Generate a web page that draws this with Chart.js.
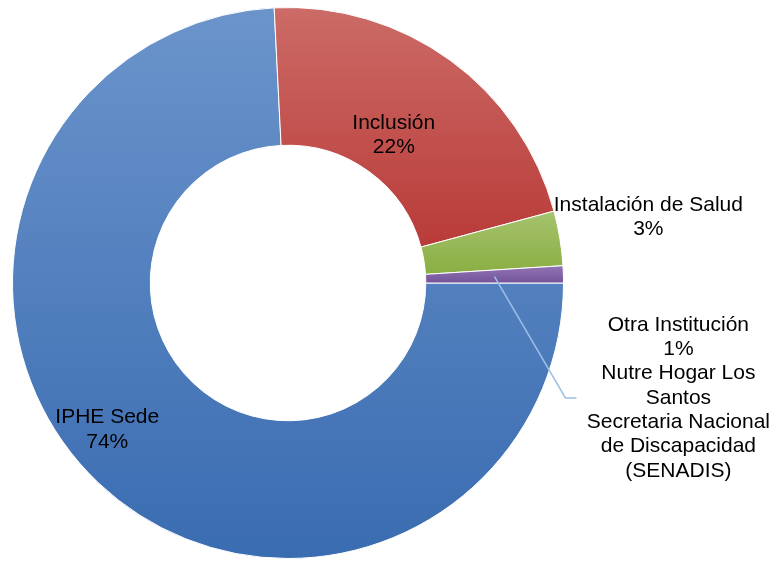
<!DOCTYPE html>
<html>
<head>
<meta charset="utf-8">
<script src="https://cdn.jsdelivr.net/npm/chart.js@4.4.0/dist/chart.umd.min.js"></script>
<style>
  html, body { margin: 0; padding: 0; background: #fff; }
  #wrap { width: 780px; height: 561px; }
</style>
</head>
<body>
<div id="wrap"><canvas id="donutChart" width="780" height="561"></canvas></div>
<script>
// category names, one entry per line of the label
var categories = [
  ['IPHE Sede'],
  ['Inclusión'],
  ['Instalación de Salud'],
  ['Otra Institución'],
  ['Nutre Hogar Los', 'Santos'],
  ['Secretaria Nacional', 'de Discapacidad', '(SENADIS)']
];
// share of total (%)
var shares = [74.2, 21.6, 3.2, 1.0, 0, 0];

// gradient: light at top of slice, dark at bottom
var topColor = ['#6B94CB', '#CC6B67', '#A6C36E', '#9275B5', '#9275B5', '#9275B5'];
var bottomColor = ['#3A6CB1', '#B93B38', '#8AAE42', '#74539A', '#74539A', '#74539A'];

// label block centre, in units of the outer radius from the ring centre
// the last three categories share one block with a leader line
var labelAt = [[-0.656, 0.533], [0.384, -0.536], [1.308, -0.239], [1.417, 0.417], null, null];
var groupStart = 3;

var total = shares.reduce(function(a, b) { return a + b; }, 0);

function sliceGradient(c) {
  var chart = c.chart, area = chart.chartArea, i = c.dataIndex;
  if (!area) return topColor[i];
  var cy = (area.top + area.bottom) / 2;
  var R = Math.min(area.right - area.left, area.bottom - area.top) / 2;
  var before = 0;
  for (var j = 0; j < i; j++) before += shares[j];
  var a0 = before / total * 2 * Math.PI;
  var a1 = a0 + shares[i] / total * 2 * Math.PI;
  var minY = Infinity, maxY = -Infinity;
  for (var k = 0; k <= 90; k++) {
    var a = a0 + (a1 - a0) * k / 90;
    [R, R / 2].forEach(function(r) {
      var y = cy + r * Math.sin(a);
      if (y < minY) minY = y;
      if (y > maxY) maxY = y;
    });
  }
  if (maxY - minY < 2) return topColor[i];
  var g = chart.ctx.createLinearGradient(0, minY, 0, maxY);
  g.addColorStop(0, topColor[i]);
  g.addColorStop(1, bottomColor[i]);
  return g;
}

function pct(v) {
  return Math.round(v / total * 100) + '%';
}

var sliceLabels = {
  id: 'sliceLabels',
  afterDatasetsDraw: function(chart) {
    var meta = chart.getDatasetMeta(0);
    var ring = meta.data[0];
    var cx = ring.x, cy = ring.y, R = ring.outerRadius;
    var ctx = chart.ctx;
    var lineH = 24.3;
    ctx.save();
    ctx.font = '21px "Liberation Sans", Arial, sans-serif';
    ctx.fillStyle = '#000';
    ctx.textAlign = 'center';
    ctx.textBaseline = 'middle';

    labelAt.forEach(function(pos, i) {
      if (!pos) return;
      var lines = [];
      var last = i === groupStart ? categories.length : i + 1;
      for (var j = i; j < last; j++) {
        lines = lines.concat(categories[j]);
        if (shares[j] > 0) lines.push(pct(shares[j]));
      }
      var x = cx + pos[0] * R, y = cy + pos[1] * R;
      var y0 = y - (lines.length - 1) * lineH / 2;
      lines.forEach(function(t, k) {
        ctx.fillText(t, x, y0 + k * lineH);
      });

      if (i === groupStart) {
        // leader line from the middle of the slice to the block
        var arc = meta.data[i];
        var mid = (arc.startAngle + arc.endAngle) / 2;
        var rMid = (arc.innerRadius + arc.outerRadius) / 2;
        ctx.strokeStyle = '#9DBFE6';
        ctx.lineWidth = 1.5;
        ctx.beginPath();
        ctx.moveTo(cx + rMid * Math.cos(mid), cy + rMid * Math.sin(mid));
        ctx.lineTo(cx + 1.007 * R, y);
        ctx.lineTo(cx + 1.047 * R, y);
        ctx.stroke();
      }
    });
    ctx.restore();
  }
};

new Chart(document.getElementById('donutChart'), {
  type: 'doughnut',
  data: {
    labels: categories,
    datasets: [{
      data: shares,
      backgroundColor: sliceGradient,
      borderColor: '#ffffff',
      borderWidth: 1
    }]
  },
  options: {
    responsive: false,
    animation: false,
    events: [],
    rotation: 90,
    cutout: '50%',
    layout: { padding: { left: 12, top: 7, right: 216, bottom: 2 } },
    plugins: {
      legend: { display: false },
      tooltip: { enabled: false }
    }
  },
  plugins: [sliceLabels]
});
</script>
</body>
</html>
